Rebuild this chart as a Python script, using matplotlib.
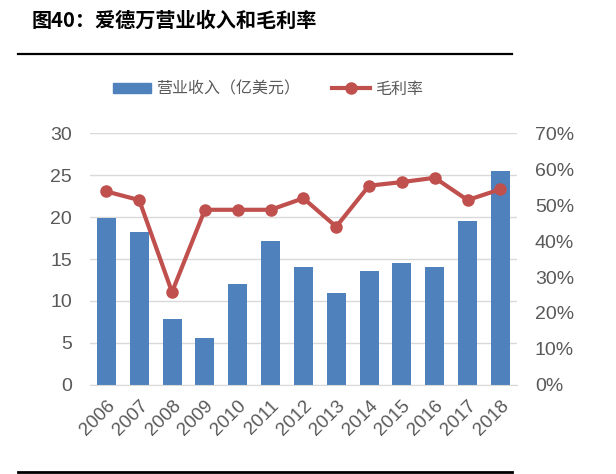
import numpy as np
import matplotlib
matplotlib.use("Agg")
import matplotlib.pyplot as plt
from matplotlib.patches import Patch
from matplotlib.lines import Line2D

plt.rcParams['font.family'] = ['Liberation Sans', 'Noto Sans CJK SC', 'DejaVu Sans']

years = ['2006', '2007', '2008', '2009', '2010', '2011', '2012',
         '2013', '2014', '2015', '2016', '2017', '2018']
revenue = [19.9, 18.2, 7.8, 5.6, 12.0, 17.2, 14.1, 10.9, 13.6, 14.5, 14.0, 19.5, 25.5]
gross_margin = [53.8, 51.4, 25.8, 48.7, 48.7, 48.7, 51.9, 44.0, 55.4, 56.4, 57.6, 51.4, 54.4]

left_ticks = [0, 5, 10, 15, 20, 25, 30]
right_ticks = [0, 10, 20, 30, 40, 50, 60, 70]

bar_color = '#4F81BD'
line_color = '#C0504D'
tick_color = '#595959'
grid_color = '#D9D9D9'

fig = plt.figure(figsize=(6.16, 4.74), dpi=100)
ax = fig.add_axes([0.146, 0.188, 0.693, 0.531])
x = np.arange(len(years))

ax.bar(x, revenue, width=0.58, color=bar_color, zorder=2)
ax.set_ylim(0, 30)
ax.set_xlim(-0.5, len(years) - 0.5)
ax.set_yticks(left_ticks)
ax.yaxis.grid(True, color=grid_color, lw=1, zorder=0)
ax.set_axisbelow(True)
for s in ['top', 'right', 'left']:
    ax.spines[s].set_visible(False)
ax.spines['bottom'].set_color(grid_color)
ax.tick_params(axis='y', length=0, labelsize=14, colors=tick_color, pad=13)
ax.set_xticks(x)
ax.set_xticklabels(years, rotation=45, ha='right', rotation_mode='anchor')
ax.tick_params(axis='x', length=0, labelsize=13.5, colors=tick_color, pad=9)

ax2 = ax.twinx()
ax2.plot(x, gross_margin, color=line_color, lw=3, marker='o', markersize=8, zorder=3)
ax2.set_ylim(0, 70)
ax2.set_yticks(right_ticks)
ax2.set_yticklabels([f'{t}%' for t in right_ticks])
for s in ['top', 'right', 'left', 'bottom']:
    ax2.spines[s].set_visible(False)
ax2.tick_params(axis='y', length=0, labelsize=14, colors=tick_color, pad=13)

# legend
handles = [Patch(color=bar_color),
           Line2D([], [], color=line_color, lw=3, marker='o', markersize=8)]
leg = fig.legend(handles, ['营业收入（亿美元）', '毛利率'], loc='center',
                 bbox_to_anchor=(0.435, 0.812), ncol=2, frameon=False,
                 prop={'family': ['Noto Sans CJK SC'], 'size': 11.5},
                 handlelength=2.4, handleheight=0.6, columnspacing=2.0, handletextpad=0.3)
for t in leg.get_texts():
    t.set_color(tick_color)

# title and rules
fig.text(0.052, 0.957, '图40：爱德万营业收入和毛利率', fontsize=14.5, fontweight='bold',
         family=['Noto Sans CJK SC'], va='center', ha='left')
fig.add_artist(Line2D([0.029, 0.831], [0.886, 0.886], color='black', lw=1.6))
fig.add_artist(Line2D([0.029, 0.831], [0.005, 0.005], color='black', lw=2.0))

fig.savefig('out.png', dpi=100)
